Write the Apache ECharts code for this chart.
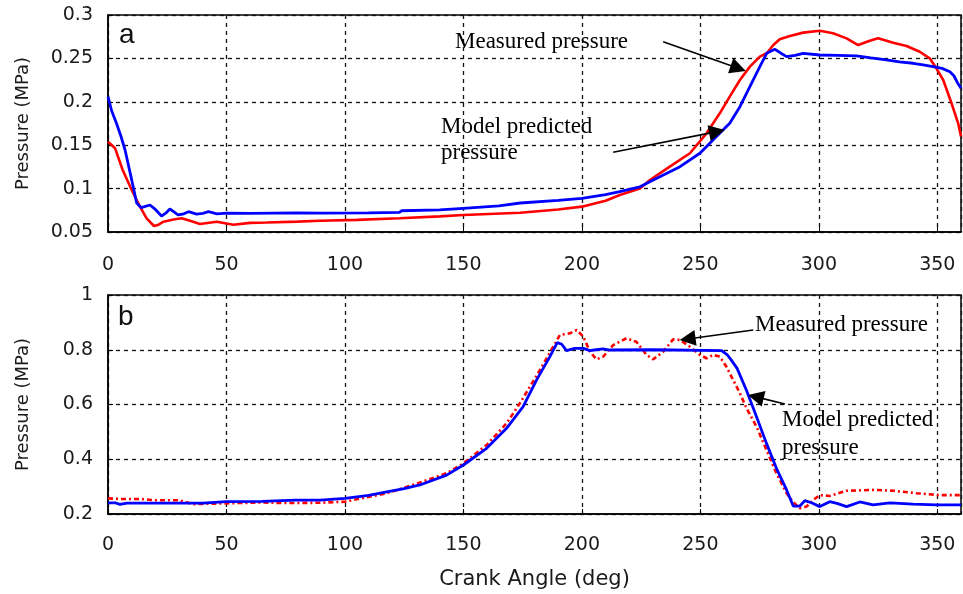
<!DOCTYPE html>
<html>
<head>
<meta charset="utf-8">
<script src="https://cdn.jsdelivr.net/npm/echarts@6/dist/echarts.min.js"></script>
<style>
  html, body { margin: 0; padding: 0; background: #fff; }
  #chart { width: 963px; height: 594px; }
</style>
</head>
<body>
<div id="chart"></div>
<script>
// ---------- Panel (a) ----------
const aModelX = [0, 1.5, 3.6, 5.5, 7.2, 10, 12.1, 14, 17.7, 20, 22.6, 24.5, 26.1, 28, 29.6, 32, 34, 37.4, 40, 42.4, 46, 50, 60, 70, 80, 90, 110, 123, 124, 140, 150, 165, 174, 190, 200, 210, 216, 224.5, 232.9, 241.4, 249.8, 256.8, 262.4, 266.7, 270.9, 275.1, 278, 281.4, 284, 286.4, 290, 293.4, 300.4, 308, 315.9, 322, 328.5, 334, 339.8, 344, 348.2, 352, 355.3, 357, 358.5, 360];
const aModelY = [0.206, 0.19, 0.175, 0.16, 0.1445, 0.11, 0.0834, 0.078, 0.0811, 0.076, 0.0684, 0.072, 0.0765, 0.073, 0.0696, 0.071, 0.0734, 0.0707, 0.0715, 0.0734, 0.071, 0.0718, 0.0715, 0.0718, 0.072, 0.0718, 0.072, 0.0725, 0.0745, 0.0755, 0.0773, 0.080, 0.0834, 0.0865, 0.0888, 0.093, 0.0965, 0.102, 0.1137, 0.1253, 0.1407, 0.16, 0.1752, 0.1944, 0.2174, 0.2405, 0.2559, 0.2605, 0.256, 0.252, 0.2535, 0.2559, 0.2539, 0.2535, 0.2528, 0.2505, 0.2482, 0.246, 0.2444, 0.2425, 0.2404, 0.2385, 0.2347, 0.23, 0.222, 0.2155];
const aMeasX = [0, 3, 6.2, 10, 13.5, 16.3, 19.4, 21, 23.4, 27.6, 31.1, 34.6, 38.8, 45.9, 52.9, 60, 67, 80, 89.5, 105, 123, 140, 150, 174, 190, 200, 210, 216, 224.5, 228.7, 237.1, 245.6, 252.6, 258.2, 262.4, 266.7, 270.9, 275.1, 278, 280.8, 283.5, 287.8, 293.4, 300.4, 306, 311.7, 316.6, 321.5, 325, 331.4, 337, 342.6, 346.8, 349.6, 352.5, 356, 358.8, 360];
const aMeasY = [0.154, 0.1464, 0.1214, 0.0984, 0.0792, 0.0658, 0.0569, 0.058, 0.0619, 0.0645, 0.0658, 0.063, 0.0592, 0.0619, 0.0584, 0.0605, 0.061, 0.062, 0.063, 0.064, 0.0658, 0.068, 0.0696, 0.0722, 0.076, 0.0792, 0.086, 0.0926, 0.1, 0.1099, 0.1253, 0.1407, 0.1637, 0.1867, 0.2059, 0.2251, 0.2405, 0.252, 0.2559, 0.2654, 0.272, 0.2758, 0.2797, 0.2819, 0.2789, 0.2731, 0.2654, 0.2704, 0.2731, 0.2681, 0.2643, 0.2577, 0.2501, 0.2386, 0.2251, 0.1983, 0.1752, 0.16];

// ---------- Panel (b) ----------
const bModelX = [0, 3, 5, 8, 20, 40, 50, 65, 79, 89.5, 100, 110, 117.6, 125, 131.6, 142.9, 150, 159.8, 168.2, 175.2, 180.9, 186.5, 189.6, 191.5, 193.5, 197, 200.6, 203.4, 206, 209, 211.8, 230, 259, 261.5, 263, 265.5, 269.4, 273.7, 277.9, 282.1, 286.4, 289.2, 292, 294.1, 296.9, 300.4, 304.6, 308, 311.7, 317.3, 322.9, 330, 339.8, 349.6, 360];
const bModelY = [0.241, 0.241, 0.235, 0.24, 0.24, 0.24, 0.245, 0.246, 0.251, 0.251, 0.257, 0.268, 0.281, 0.293, 0.306, 0.342, 0.379, 0.44, 0.513, 0.592, 0.69, 0.775, 0.826, 0.82, 0.797, 0.805, 0.805, 0.797, 0.8, 0.803, 0.799, 0.8, 0.797, 0.78, 0.763, 0.732, 0.653, 0.555, 0.458, 0.367, 0.288, 0.229, 0.229, 0.249, 0.241, 0.227, 0.245, 0.238, 0.227, 0.244, 0.233, 0.241, 0.236, 0.233, 0.233];
const bMeasX = [0, 5, 13.5, 20, 30, 36, 45, 55, 65, 75, 89.5, 100, 117.6, 130, 142.9, 150, 159.8, 168.2, 173.8, 182.3, 187.9, 190.7, 194.9, 197.8, 200.6, 203.4, 206.2, 209, 213.2, 218.8, 223, 227.3, 230.1, 234.3, 238.5, 241.4, 245.6, 249.8, 252.6, 255.4, 258.2, 261, 263.8, 266.7, 269.5, 273.7, 277.9, 282.1, 286.4, 289, 292, 294.8, 297.6, 300.4, 304.6, 311.7, 322.9, 331.4, 341.2, 351, 360];
const bMeasY = [0.257, 0.255, 0.255, 0.25, 0.25, 0.236, 0.238, 0.24, 0.242, 0.24, 0.241, 0.245, 0.276, 0.31, 0.349, 0.385, 0.452, 0.531, 0.604, 0.726, 0.811, 0.854, 0.86, 0.872, 0.848, 0.793, 0.765, 0.775, 0.817, 0.842, 0.829, 0.781, 0.765, 0.793, 0.838, 0.836, 0.811, 0.781, 0.769, 0.781, 0.775, 0.738, 0.69, 0.641, 0.586, 0.519, 0.434, 0.349, 0.276, 0.245, 0.221, 0.227, 0.251, 0.269, 0.266, 0.285, 0.288, 0.285, 0.276, 0.269, 0.269];

// axis settings
const xMin = 0, xMax = 360, xStep = 50;
const aYMin = 0.05, aYMax = 0.3, aYStep = 0.05;
const bYMin = 0.2, bYMax = 1, bYStep = 0.2;

// annotation arrows (data coords: [start, end])
const aMeasArrow = [[234.3, 0.2692], [266.0, 0.2386]];
const aModelArrow = [[213.2, 0.1418], [257.0, 0.1656]];
const bMeasArrow = [[272.3, 0.8721], [244.6, 0.8392]];
const bModelArrow = [[285.7, 0.6018], [273.4, 0.6278]];

const zip = (xs, ys) => xs.map((x, i) => [x, ys[i]]);

const chart = echarts.init(document.getElementById('chart'), null, { renderer: 'canvas' });

const sansFont = 'DejaVu Sans';
const serifFont = 'Liberation Serif';
const textColor = '#1a1a1a';

function xAxisCfg(gridIndex, withName, margin) {
  const cfg = {
    type: 'value', gridIndex, min: xMin, max: xMax, interval: xStep,
    axisLine: { show: true, lineStyle: { color: '#000', width: 1.5 } },
    axisTick: { show: true, inside: true, length: 5, lineStyle: { color: '#000' } },
    axisLabel: { color: textColor, fontSize: 19, fontFamily: sansFont, margin: margin, showMaxLabel: false },
    splitLine: { show: true, lineStyle: { color: '#111', type: [4, 4], width: 1.3 } }
  };
  if (withName) {
    cfg.name = 'Crank Angle (deg)';
    cfg.nameLocation = 'middle';
    cfg.nameGap = 55;
    cfg.nameTextStyle = { color: textColor, fontSize: 21, fontFamily: sansFont };
  }
  return cfg;
}
function yAxisCfg(gridIndex, min, max, step) {
  return {
    type: 'value', gridIndex, min, max, interval: step,
    name: 'Pressure (MPa)', nameLocation: 'middle', nameGap: 76, nameRotate: 90,
    nameTextStyle: { color: textColor, fontSize: 18, fontFamily: sansFont },
    axisLine: { show: true, lineStyle: { color: '#000', width: 1.5 } },
    axisTick: { show: true, inside: true, length: 5, lineStyle: { color: '#000' } },
    axisLabel: { color: textColor, fontSize: 19, fontFamily: sansFont, margin: 15 },
    splitLine: { show: true, lineStyle: { color: '#111', type: [4, 4], width: 1.3 } }
  };
}
function arrowLine(arrows) {
  return {
    silent: true,
    symbol: ['none', 'triangle'],
    symbolSize: 16,
    label: { show: false },
    lineStyle: { color: '#000', width: 1.6, type: 'solid' },
    itemStyle: { color: '#000' },
    emphasis: { disabled: true },
    data: arrows.map(a => [{ coord: a[0] }, { coord: a[1] }])
  };
}

const option = {
  animation: false,
  backgroundColor: '#fff',
  grid: [
    { left: 108, top: 15, width: 853, height: 217, show: true, borderColor: '#000', borderWidth: 1.5, backgroundColor: 'transparent' },
    { left: 108, top: 295, width: 853, height: 219, show: true, borderColor: '#000', borderWidth: 1.5, backgroundColor: 'transparent' }
  ],
  xAxis: [xAxisCfg(0, false, 24), xAxisCfg(1, true, 22)],
  yAxis: [yAxisCfg(0, aYMin, aYMax, aYStep), yAxisCfg(1, bYMin, bYMax, bYStep)],
  series: [
    { type: 'line', xAxisIndex: 0, yAxisIndex: 0, data: zip(aMeasX, aMeasY), showSymbol: false,
      lineStyle: { color: '#ff0000', width: 2.6 }, z: 3 },
    { type: 'line', xAxisIndex: 0, yAxisIndex: 0, data: zip(aModelX, aModelY), showSymbol: false,
      lineStyle: { color: '#0000ff', width: 2.8 }, z: 4,
      markLine: arrowLine([aMeasArrow, aModelArrow]) },
    { type: 'line', xAxisIndex: 1, yAxisIndex: 1, data: zip(bMeasX, bMeasY), showSymbol: false,
      lineStyle: { color: '#ff0000', width: 2.6, type: [5, 3, 2, 3] }, z: 3 },
    { type: 'line', xAxisIndex: 1, yAxisIndex: 1, data: zip(bModelX, bModelY), showSymbol: false,
      lineStyle: { color: '#0000ff', width: 2.8 }, z: 4,
      markLine: arrowLine([bMeasArrow, bModelArrow]) }
  ],
  graphic: [
    { type: 'text', x: 119, y: 35, z: 10, style: { text: 'a', fontSize: 28, fontFamily: 'Liberation Sans', fill: '#111', align: 'left', verticalAlign: 'middle' } },
    { type: 'text', x: 118, y: 317, z: 10, style: { text: 'b', fontSize: 28, fontFamily: 'Liberation Sans', fill: '#111', align: 'left', verticalAlign: 'middle' } },
    { type: 'text', x: 455, y: 42, z: 10, style: { text: 'Measured pressure', fontSize: 23, fontFamily: serifFont, fill: '#000', align: 'left', verticalAlign: 'middle' } },
    { type: 'text', x: 441, y: 127, z: 10, style: { text: 'Model predicted', fontSize: 23, fontFamily: serifFont, fill: '#000', align: 'left', verticalAlign: 'middle' } },
    { type: 'text', x: 441, y: 153, z: 10, style: { text: 'pressure', fontSize: 23, fontFamily: serifFont, fill: '#000', align: 'left', verticalAlign: 'middle' } },
    { type: 'text', x: 755, y: 325, z: 10, style: { text: 'Measured pressure', fontSize: 23, fontFamily: serifFont, fill: '#000', align: 'left', verticalAlign: 'middle' } },
    { type: 'text', x: 782, y: 420, z: 10, style: { text: 'Model predicted', fontSize: 23, fontFamily: serifFont, fill: '#000', align: 'left', verticalAlign: 'middle' } },
    { type: 'text', x: 782, y: 448, z: 10, style: { text: 'pressure', fontSize: 23, fontFamily: serifFont, fill: '#000', align: 'left', verticalAlign: 'middle' } }
  ]
};
chart.setOption(option);
</script>
</body>
</html>
